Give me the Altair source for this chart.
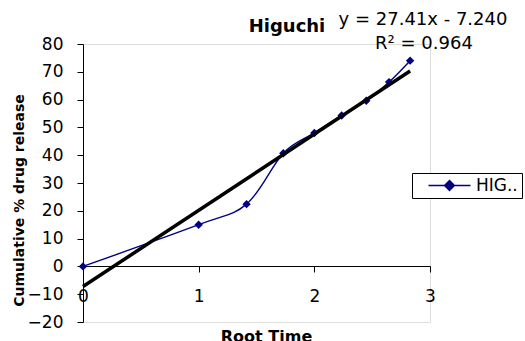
import altair as alt
import pandas as pd

# ---- data ----
root_time = [0, 1, 1.414, 1.732, 2, 2.236, 2.449, 2.646, 2.828]
release = [0, 15.0, 22.4, 40.7, 48.0, 54.3, 59.6, 66.3, 74.0]
series_name = "HIG..\u00a0\u00a0\u00a0\u00a0"
chart_title = "Higuchi"
slope = 27.41
intercept = -7.240
r_squared = 0.964
x_ticks = [0, 1, 2, 3]
y_ticks = [-20, -10, 0, 10, 20, 30, 40, 50, 60, 70, 80]

df = pd.DataFrame({"x": root_time, "y": release, "series": series_name})
fit_x = [root_time[0], root_time[-1]]
fit_df = pd.DataFrame({"x": fit_x, "y": [slope * v + intercept for v in fit_x]})
eq_line1 = f"y = {slope:.2f}x - {abs(intercept):.3f}"
eq_line2 = f"R² = {r_squared:.3f}"

FONT = "DejaVu Sans"
NAVY = "#000080"

x_scale = alt.Scale(domain=[0, 3], nice=False, zero=False)
y_scale = alt.Scale(domain=[-20, 80], nice=False, zero=False)

x_axis = alt.Axis(
    values=x_ticks, format="d", offset=-56, grid=False, domainColor="black",
    tickColor="black", tickSize=6, labelFontSize=17, labelFont=FONT,
    labelColor="black", labelPadding=16, labelFlush=False, labelOverlap=False,
    title="Root Time", titleFont=FONT, titleFontSize=16, titleFontWeight="bold",
    titleColor="black", titleX=183, titlePadding=24,
)
y_axis = alt.Axis(
    values=y_ticks, format="d", grid=False, domainColor="black", tickColor="black",
    tickSize=6, labelFontSize=17, labelFont=FONT, labelColor="black", labelPadding=14,
    labelFlush=False, labelOverlap=False,
    title="Cumulative % drug release", titleFont=FONT, titleFontSize=14,
    titleFontWeight="bold", titleColor="black", titleX=-64, titleY=156,
    titleAlign="center", titleBaseline="middle", titleAngle=270,
)

legend_path = "M-3,0H3M0,-0.7L0.7,0L0,0.7L-0.7,0Z"

X = alt.X("x:Q", scale=x_scale, axis=x_axis)
Y = alt.Y("y:Q", scale=y_scale, axis=y_axis)

line = alt.Chart(df).mark_line(
    interpolate="cardinal", color=NAVY, strokeWidth=1.4
).encode(x=X, y=Y)

points = alt.Chart(df).mark_point(shape="diamond", filled=True, size=70, opacity=1).encode(
    x=X, y=Y,
    color=alt.Color(
        "series:N", scale=alt.Scale(range=[NAVY]),
        legend=alt.Legend(
            title=None, orient="none", legendX=329, legendY=129,
            strokeColor="black", fillColor="white", padding=4,
            symbolType=legend_path, symbolSize=196, symbolOffset=25,
            symbolStrokeColor=NAVY, symbolFillColor=NAVY, symbolStrokeWidth=1.5,
            symbolOpacity=1, labelFont=FONT, labelFontSize=17, labelColor="black",
            labelOffset=18, labelLimit=300,
        ),
    ),
)

fit = alt.Chart(fit_df).mark_line(color="black", strokeWidth=3.5).encode(x=X, y=Y)

eq1 = alt.Chart().mark_text(
    font=FONT, fontSize=18, color="black", align="center", baseline="middle",
    text=eq_line1,
).encode(x=alt.value(340), y=alt.value(-24))

eq2 = alt.Chart().mark_text(
    font=FONT, fontSize=18, color="black", align="center", baseline="middle",
    text=eq_line2,
).encode(x=alt.value(341), y=alt.value(0))

title_txt = alt.Chart().mark_text(
    font=FONT, fontSize=18, fontWeight="bold", color="black", align="center",
    baseline="middle", text=chart_title,
).encode(x=alt.value(204), y=alt.value(-17))

chart = alt.layer(line, points, fit, eq1, eq2, title_txt).properties(
    width=347, height=278, autosize="none",
    padding={"left": 83, "top": 44, "right": 95, "bottom": 19},
).configure_view(stroke=None).configure(background="white")

chart.save("out.html", embed_options={"renderer": "svg", "actions": False})
